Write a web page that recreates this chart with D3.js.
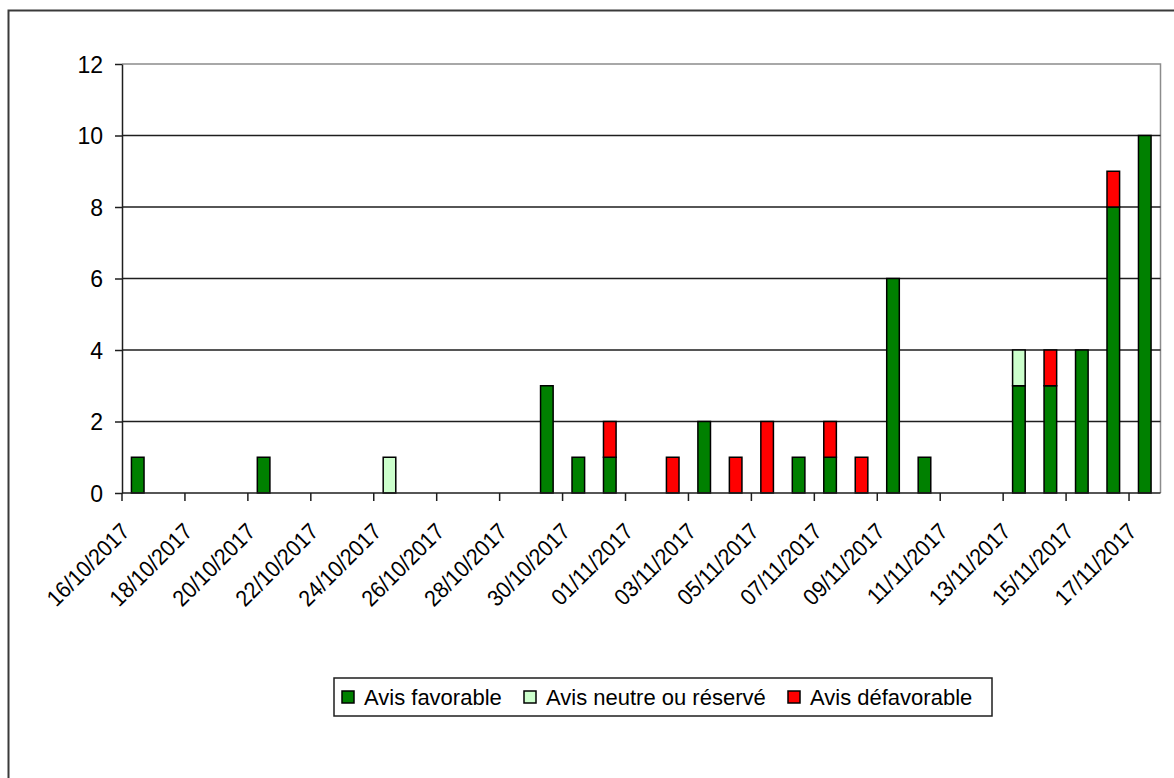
<!DOCTYPE html>
<html>
<head>
<meta charset="utf-8">
<script src="https://cdn.jsdelivr.net/npm/d3@7"></script>
<style>
    body { margin: 0; background: #fff; }
    svg { display: block; font-family: Arial, "Liberation Sans", sans-serif; }
</style>
</head>
<body>
<div id="chart"></div>
<script>
// one slot per day, 16/10/2017 .. 17/11/2017
const days = [
    '16/10/2017', '17/10/2017', '18/10/2017', '19/10/2017', '20/10/2017', '21/10/2017',
    '22/10/2017', '23/10/2017', '24/10/2017', '25/10/2017', '26/10/2017', '27/10/2017',
    '28/10/2017', '29/10/2017', '30/10/2017', '31/10/2017', '01/11/2017', '02/11/2017',
    '03/11/2017', '04/11/2017', '05/11/2017', '06/11/2017', '07/11/2017', '08/11/2017',
    '09/11/2017', '10/11/2017', '11/11/2017', '12/11/2017', '13/11/2017', '14/11/2017',
    '15/11/2017', '16/11/2017', '17/11/2017'
];
const favorable   = [1, 0, 0, 0, 1, 0, 0, 0, 0, 0, 0, 0, 0, 3, 1, 1, 0, 0, 2, 0, 0, 1, 1, 0, 6, 1, 0, 0, 3, 3, 4, 8, 10];
const neutre      = [0, 0, 0, 0, 0, 0, 0, 0, 1, 0, 0, 0, 0, 0, 0, 0, 0, 0, 0, 0, 0, 0, 0, 0, 0, 0, 0, 0, 1, 0, 0, 0, 0];
const defavorable = [0, 0, 0, 0, 0, 0, 0, 0, 0, 0, 0, 0, 0, 0, 0, 1, 0, 1, 0, 1, 2, 0, 1, 1, 0, 0, 0, 0, 0, 1, 0, 1, 0];

const seriesNames = ['Avis favorable', 'Avis neutre ou réservé', 'Avis défavorable'];
const seriesColors = ['#008000', '#ccffcc', '#ff0000'];
const yTicks = [0, 2, 4, 6, 8, 10, 12];
const tickLabels = days.filter((d, i) => i % 2 === 0);

const width = 1174;
const height = 778;
const plot = { left: 122, right: 1160.5, top: 64, bottom: 493 };

const svg = d3.select('#chart').append('svg')
    .attr('width', width)
    .attr('height', height);

// outer chart frame (runs past the picture on the right and bottom)
svg.append('rect')
    .attr('x', 8.5)
    .attr('y', 10.5)
    .attr('width', 1200)
    .attr('height', 800)
    .attr('fill', '#fff')
    .attr('stroke', '#3a3a3a')
    .attr('stroke-width', 2);

const x = d3.scaleBand()
    .domain(days)
    .range([plot.left, plot.right])
    .paddingInner(0.6)
    .paddingOuter(0.3);

const y = d3.scaleLinear()
    .domain([0, 12])
    .range([plot.bottom, plot.top]);

// plot border, top and right in grey
svg.append('path')
    .attr('d', `M${plot.left},${plot.top}H${plot.right}V${plot.bottom}`)
    .attr('fill', 'none')
    .attr('stroke', '#8c8c8c')
    .attr('stroke-width', 1.5);

// horizontal gridlines
svg.append('g')
    .selectAll('line')
    .data(yTicks.filter(d => d > 0 && d < 12))
    .join('line')
    .attr('x1', plot.left)
    .attr('x2', plot.right)
    .attr('y1', d => y(d))
    .attr('y2', d => y(d))
    .attr('stroke', '#1e1e1e')
    .attr('stroke-width', 1.5);

// stacked bars
const rows = days.map((d, i) => ({ day: d, fav: favorable[i], neu: neutre[i], def: defavorable[i] }));
const stack = d3.stack().keys(['fav', 'neu', 'def'])(rows);

svg.append('g')
    .selectAll('g')
    .data(stack)
    .join('g')
    .attr('fill', (d, i) => seriesColors[i])
    .selectAll('rect')
    .data(d => d.filter(p => p[1] > p[0]))
    .join('rect')
    .attr('x', d => x(d.data.day))
    .attr('width', x.bandwidth())
    .attr('y', d => y(d[1]))
    .attr('height', d => y(d[0]) - y(d[1]))
    .attr('stroke', '#000')
    .attr('stroke-width', 1.5);

// y axis
const yAxis = svg.append('g')
    .attr('transform', `translate(${plot.left},0)`)
    .call(d3.axisLeft(y).tickValues(yTicks).tickSize(7).tickPadding(12).tickSizeOuter(0));
yAxis.select('.domain').attr('stroke', '#1e1e1e').attr('stroke-width', 1.5);
yAxis.selectAll('.tick line').attr('stroke', '#1e1e1e').attr('stroke-width', 1.5);
yAxis.selectAll('.tick text')
    .attr('font-size', 23)
    .attr('fill', '#000')
    .attr('dy', '0.36em');

// x axis: tick at the start of every second day
const step = x.step();
const xAxis = svg.append('g')
    .attr('transform', `translate(0,${plot.bottom})`)
    .call(d3.axisBottom(x).tickValues(tickLabels).tickSize(8).tickSizeOuter(0));
xAxis.selectAll('.tick')
    .attr('transform', d => `translate(${x(d) + x.bandwidth() / 2 - step / 2},0)`);
xAxis.select('.domain').remove();
svg.append('line')
    .attr('x1', plot.left)
    .attr('x2', plot.right)
    .attr('y1', plot.bottom)
    .attr('y2', plot.bottom)
    .attr('stroke', '#1e1e1e')
    .attr('stroke-width', 1.5);
xAxis.selectAll('.tick line').attr('stroke', '#1e1e1e').attr('stroke-width', 1.5);
xAxis.selectAll('.tick text')
    .attr('font-size', 23)
    .attr('fill', '#000')
    .attr('text-anchor', 'end')
    .attr('dy', null)
    .attr('y', 0)
    .attr('transform', 'translate(9,40) rotate(-45) scale(0.92,1)');

// legend
const legend = svg.append('g');
legend.append('rect')
    .attr('x', 334)
    .attr('y', 678)
    .attr('width', 658)
    .attr('height', 38)
    .attr('fill', '#fff')
    .attr('stroke', '#1e1e1e')
    .attr('stroke-width', 1.5);

const itemStarts = [342, 524, 788];
seriesNames.forEach((name, i) => {
    legend.append('rect')
        .attr('x', itemStarts[i])
        .attr('y', 691)
        .attr('width', 12)
        .attr('height', 12)
        .attr('fill', seriesColors[i])
        .attr('stroke', '#000')
        .attr('stroke-width', 1.5);
    legend.append('text')
        .attr('x', itemStarts[i] + 22)
        .attr('y', 705)
        .attr('font-size', 22)
        .attr('fill', '#000')
        .text(name);
});
</script>
</body>
</html>
